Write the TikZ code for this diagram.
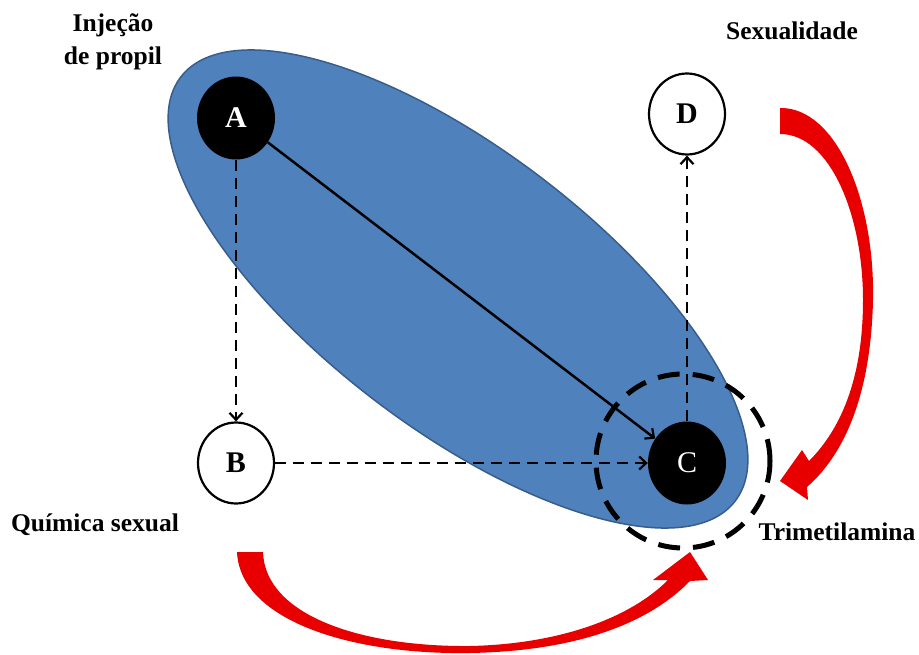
\documentclass[tikz,border=0pt]{standalone}
\usepackage{fontspec}
\setmainfont{Liberation Serif}
\usetikzlibrary{arrows.meta,shapes.geometric}
\definecolor{ellblue}{RGB}{79,129,189}
\definecolor{ellborder}{RGB}{56,93,138}
\definecolor{arrred}{RGB}{232,0,0}
\begin{document}
\begin{tikzpicture}[x=1pt,y=-1pt,
  lbl/.style={font=\fontsize{25.5}{33}\selectfont\bfseries, align=center, inner sep=0pt},
  blacknode/.style={ellipse, fill=black, minimum width=78pt, minimum height=83pt, inner sep=0pt, text=white, font=\fontsize{30}{30}\selectfont\bfseries},
  whitenode/.style={ellipse, draw=black, line width=2.2pt, fill=white, minimum width=76pt, minimum height=81pt, inner sep=0pt, font=\fontsize{30}{30}\selectfont\bfseries},
  conn/.style={line width=2.5pt, -{Straight Barb[length=7pt,width=13pt,line width=2.2pt]}},
  dconn/.style={conn, dash pattern=on 11pt off 7pt},
  redarrow/.style={fill=arrred, draw=none}]
\useasboundingbox (0,0) rectangle (919,655);
\fill[white] (0,0) rectangle (919,655);
% blue ellipse
\node[ellipse, draw=ellborder, line width=1.5pt, fill=ellblue, inner sep=0pt,
      minimum width=698pt, minimum height=278pt, rotate=-37.4] (blob) at (458,289) {};
% nodes
\node[blacknode] (A) at (236,118) {A};
\node[whitenode] (D) at (687,114) {D};
\node[whitenode] (B) at (236,463) {B};
\node[blacknode, font=\fontsize{30}{30}\selectfont\mdseries] (C) at (687,463) {C};
% connectors
\draw[conn] (A) -- (C);
\draw[dconn] (A) -- (B);
\draw[dconn] (B) -- (C);
\draw[dconn] (C) -- (D);
% dashed ring
\node[circle, draw=black, line width=5pt, dash pattern=on 22pt off 13pt, minimum size=174pt, inner sep=0pt] (ring) at (683,461) {};
% labels
\node[lbl] (lA) at (113,42) {Injeção\\de propil};
\node[lbl] (lD) at (792,31) {Sexualidade};
\node[lbl] (lB) at (95,525) {Química sexual};
\node[lbl] (lC) at (837,532) {Trimetilamina};
% red curved arrow (right)
\fill[redarrow] (780,108) .. controls (836,107) and (875,200) .. (873,300)
  .. controls (871,390) and (847,452) .. (807,487)
  -- (808,500) -- (780,481) -- (802,450) -- (809,461)
  .. controls (840,430) and (863,380) .. (863,300)
  .. controls (863,215) and (830,134) .. (780,134) -- cycle;
% red curved arrow (bottom)
\fill[redarrow] (237,552) .. controls (240,620) and (350,655) .. (470,653)
  .. controls (580,651) and (650,622) .. (690,581)
  -- (708,580) -- (690,552) -- (653,580) -- (668,580)
  .. controls (630,618) and (560,644) .. (470,646)
  .. controls (360,647) and (265,615) .. (263,552) -- cycle;
\end{tikzpicture}
\end{document}
